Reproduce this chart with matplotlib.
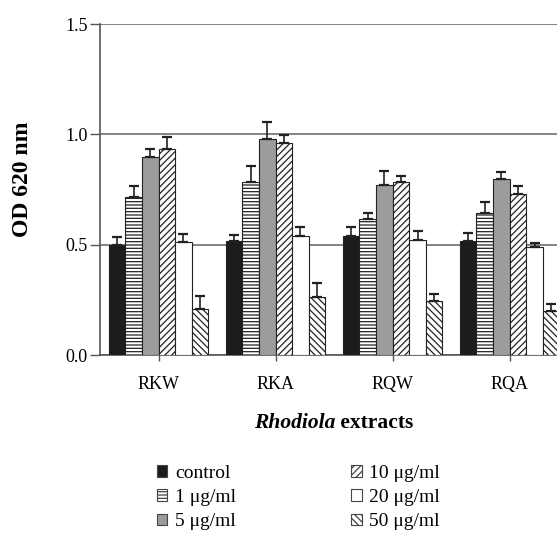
import numpy as np
import matplotlib.pyplot as plt
from matplotlib.patches import Patch

plt.rcParams['font.family'] = ['Liberation Serif', 'DejaVu Serif']
plt.rcParams['hatch.linewidth'] = 0.9

extracts = ['RKW', 'RKA', 'RQW', 'RQA']
doses = ['control', '1 \u03bcg/ml', '5 \u03bcg/ml', '10 \u03bcg/ml', '20 \u03bcg/ml', '50 \u03bcg/ml']

# OD 620 nm, one list per dose, values per extract
control = [0.50, 0.515, 0.538, 0.518]
d1 = [0.716, 0.785, 0.618, 0.643]
d5 = [0.896, 0.979, 0.770, 0.797]
d10 = [0.932, 0.959, 0.784, 0.728]
d20 = [0.510, 0.538, 0.523, 0.491]
d50 = [0.210, 0.263, 0.245, 0.198]

control_err = [0.035, 0.030, 0.043, 0.035]
d1_err = [0.050, 0.070, 0.025, 0.052]
d5_err = [0.037, 0.078, 0.065, 0.031]
d10_err = [0.057, 0.038, 0.027, 0.036]
d20_err = [0.040, 0.043, 0.038, 0.018]
d50_err = [0.059, 0.062, 0.030, 0.033]

values = [control, d1, d5, d10, d20, d50]
errors = [control_err, d1_err, d5_err, d10_err, d20_err, d50_err]
faces = ['#1c1c1c', 'white', '#9c9c9c', 'white', 'white', 'white']
hatches = [None, '-----', None, '/////', None, '\\\\\\\\\\']

fig = plt.figure(figsize=(5.57, 5.42), dpi=100)
ax = fig.add_axes([0.1795, 0.345, 0.851, 0.6107])

x = np.arange(len(extracts))
w = 0.142
for i, (v, e) in enumerate(zip(values, errors)):
    pos = x + (i - 2.5) * w
    ax.bar(pos, v, w, color=faces[i], edgecolor='#222222', linewidth=0.8,
           hatch=hatches[i], zorder=3)
    ax.errorbar(pos, v, yerr=[np.zeros(len(e)), e], fmt='none', ecolor='#222222',
                elinewidth=1.2, capsize=3.5, capthick=1.6, zorder=4)

ax.set_xlim(-0.5, 3.55)
ax.set_ylim(0, 1.5)
ax.set_yticks([0.0, 0.5, 1.0, 1.5])
ax.set_yticklabels(['0.0', '0.5', '1.0', '1.5'])
ax.set_xticks(x)
ax.set_xticklabels(extracts)
ax.yaxis.grid(True, color='#6e6e6e', linewidth=1.2, zorder=0)
ax.set_axisbelow(True)
for s in ['top', 'right']:
    ax.spines[s].set_visible(False)
for s in ['left', 'bottom']:
    ax.spines[s].set_color('#555555')
    ax.spines[s].set_linewidth(1.2)
ax.tick_params(axis='y', length=7, width=1.0, color='#555555', labelsize=13, pad=2)
ax.tick_params(axis='x', length=4, width=1.0, color='#555555', labelsize=13, pad=11)

ax.set_ylabel('OD 620 nm', fontsize=17, fontweight='bold')
ax.yaxis.set_label_coords(-0.142, 0.53)

t1 = fig.text(0.456, 0.21, 'Rhodiola', fontsize=15.5, fontweight='bold',
              fontstyle='italic', ha='left', va='baseline')
fig.canvas.draw()
ax.annotate(' extracts', xy=(1, 0), xycoords=t1, va='bottom', ha='left',
            fontsize=15.5, fontweight='bold', annotation_clip=False)

handles = [Patch(facecolor=faces[i], edgecolor='#444444', hatch=hatches[i],
                 linewidth=0.8) for i in range(6)]
fig.legend(handles, doses, loc='upper left', bbox_to_anchor=(0.25, 0.175),
           ncol=2, frameon=False, fontsize=14, handlelength=0.55,
           handleheight=0.55, handletextpad=0.4, columnspacing=5.9,
           labelspacing=0.38)

fig.savefig('out.png', dpi=100)
